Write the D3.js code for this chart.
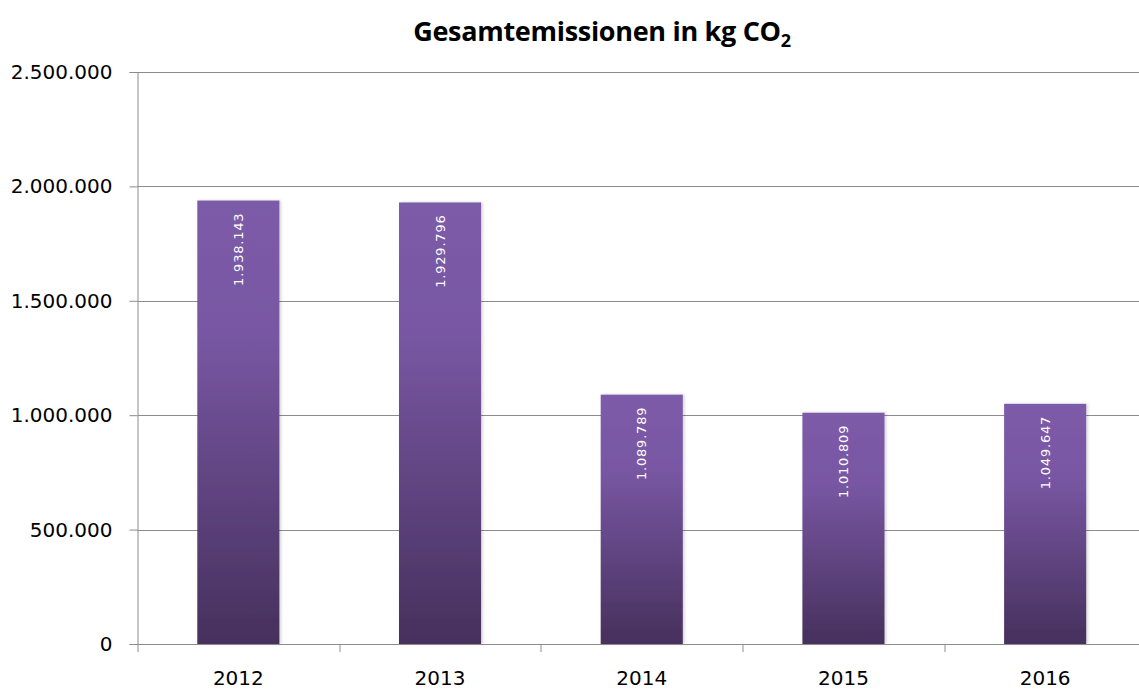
<!DOCTYPE html>
<html>
<head>
<meta charset="utf-8">
<script src="https://cdn.jsdelivr.net/npm/d3@7"></script>
<style>
  body { margin: 0; background: #fff; }
  svg { display: block; }
</style>
</head>
<body>
<svg class="plot" width="1139" height="690"></svg>
<script>
// chart data
var years = ["2012", "2013", "2014", "2015", "2016"];
var emissions = [1938143, 1929796, 1089789, 1010809, 1049647];
var yTicks = [0, 500000, 1000000, 1500000, 2000000, 2500000];

var svg = d3.select(".plot"),
    margin = {top: 72, right: -7, bottom: 46, left: 137.5},
    width = +svg.attr("width") - margin.left - margin.right,
    height = +svg.attr("height") - margin.top - margin.bottom;

// german number format: dots as thousands separator
var de = d3.formatLocale({decimal: ",", thousands: ".", grouping: [3], currency: ["", " €"]});
var fmt = de.format(",d");

var x = d3.scaleBand().domain(years).range([0, width]).paddingInner(0.593).paddingOuter(0.2965),
    y = d3.scaleLinear().domain([0, 2500000]).range([height, 0]);

// bar gradient, light purple at the top to dark at the bottom
var defs = svg.append("defs");
var grad = defs.append("linearGradient")
    .attr("id", "barGrad")
    .attr("x1", 0).attr("y1", 0).attr("x2", 0).attr("y2", 1);
grad.append("stop").attr("offset", "0%").attr("stop-color", "#7c5ba8");
grad.append("stop").attr("offset", "30%").attr("stop-color", "#7857a3");
grad.append("stop").attr("offset", "100%").attr("stop-color", "#46305c");

var shadow = defs.append("filter").attr("id", "shadow")
    .attr("x", "-10%").attr("y", "-5%").attr("width", "125%").attr("height", "110%");
shadow.append("feDropShadow").attr("dx", 1.5).attr("dy", 0).attr("stdDeviation", 1.5)
    .attr("flood-color", "#000").attr("flood-opacity", 0.18);

var g = svg.append("g")
    .attr("transform", "translate(" + margin.left + "," + margin.top + ")");

// title
svg.append("text")
    .attr("x", 602)
    .attr("y", 41)
    .attr("text-anchor", "middle")
    .style("font-family", "'Open Sans', sans-serif")
    .style("font-weight", "bold")
    .style("font-size", "27px")
    .style("letter-spacing", "-0.3px")
    .style("fill", "#000")
    .text("Gesamtemissionen in kg CO")
    .append("tspan")
    .attr("dy", 6)
    .style("font-size", "18px")
    .text("2");

// horizontal grid lines
g.append("g")
    .attr("class", "grid")
    .selectAll("line")
    .data(yTicks.filter(function(d) { return d > 0; }))
    .enter()
    .append("line")
    .attr("x1", 0)
    .attr("x2", width)
    .attr("y1", function(d) { return Math.round(y(d)) + 0.5; })
    .attr("y2", function(d) { return Math.round(y(d)) + 0.5; })
    .attr("stroke", "#8c8c8c")
    .attr("stroke-width", 1);

// y axis
var yAxis = g.append("g")
    .attr("class", "axis axis--y")
    .call(d3.axisLeft(y).tickValues(yTicks).tickFormat(fmt).tickSize(8).tickPadding(17));

// x axis
var xAxis = g.append("g")
    .attr("class", "axis axis--x")
    .attr("transform", "translate(0," + height + ")")
    .call(d3.axisBottom(x).tickSize(0).tickPadding(27));

// tick marks between the categories
xAxis.selectAll(".sep")
    .data(d3.range(years.length))
    .enter()
    .append("line")
    .attr("class", "sep")
    .attr("x1", function(i) { return Math.round(x(years[i]) - x.step() * x.paddingOuter()) + 0.5; })
    .attr("x2", function(i) { return Math.round(x(years[i]) - x.step() * x.paddingOuter()) + 0.5; })
    .attr("y1", 0)
    .attr("y2", 8)
    .attr("stroke", "#8c8c8c");

svg.selectAll(".axis path, .axis line")
    .attr("stroke", "#8c8c8c");
svg.selectAll(".axis text")
    .style("font-family", "'DejaVu Sans', sans-serif")
    .style("font-size", "20px")
    .style("fill", "#000");

// bars
g.selectAll(".bar")
    .data(emissions)
    .enter()
    .append("rect")
    .attr("class", "bar")
    .attr("x", function(d, i) { return x(years[i]); })
    .attr("y", function(d) { return y(d); })
    .attr("width", x.bandwidth())
    .attr("height", function(d) { return height - y(d); })
    .attr("fill", "url(#barGrad)")
    .attr("filter", "url(#shadow)");

// value labels, rotated, inside top of bar
g.selectAll(".val")
    .data(emissions)
    .enter()
    .append("text")
    .attr("class", "val")
    .attr("transform", function(d, i) {
      return "translate(" + (x(years[i]) + x.bandwidth() / 2 + 4.5) + "," + (y(d) + 12) + ") rotate(-90)";
    })
    .attr("text-anchor", "end")
    .style("font-family", "'DejaVu Sans', sans-serif")
    .style("font-size", "13px")
    .style("letter-spacing", "0.8px")
    .style("fill", "#fff")
    .text(function(d) { return fmt(d); });

// baseline redrawn above the bars
g.append("line")
    .attr("x1", 0).attr("x2", width)
    .attr("y1", height + 0.5).attr("y2", height + 0.5)
    .attr("stroke", "#8c8c8c");
</script>
</body>
</html>
